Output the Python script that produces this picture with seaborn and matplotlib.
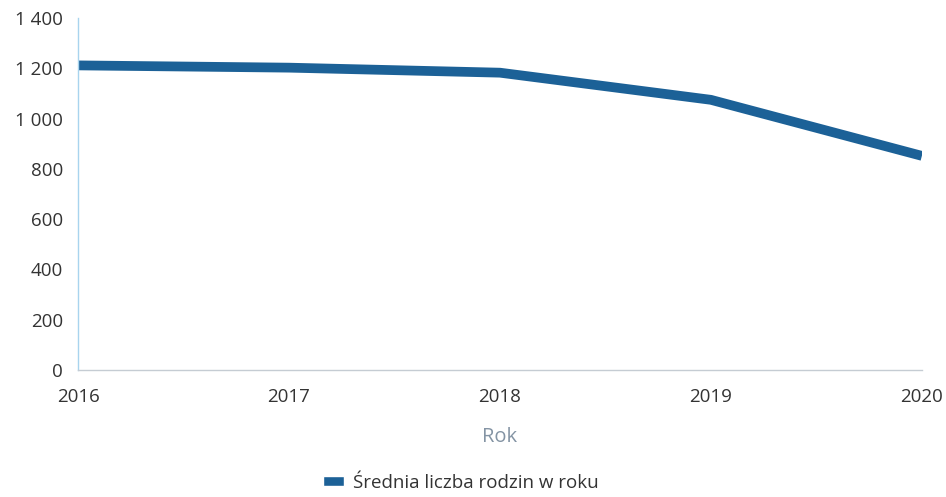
import pandas as pd
import numpy as np

import seaborn as sns
import matplotlib.pyplot as plt
from matplotlib.ticker import FuncFormatter
from matplotlib.patches import Patch


years = [2016, 2017, 2018, 2019, 2020]
families = [1212, 1203, 1183, 1075, 852]
series_name = "Średnia liczba rodzin w roku"
yticks = [0, 200, 400, 600, 800, 1000, 1200, 1400]


def space_thousands(v, pos):
    return "{:,.0f}".format(v).replace(",", " ")


if __name__ == "__main__":
    sns.set_style("white")
    plt.rcParams['font.family'] = ['Open Sans', 'DejaVu Sans']

    df = pd.DataFrame({"Rok": years, series_name: families})

    fig = plt.figure(figsize=(9.46, 4.97), dpi=100)
    ax = fig.add_axes([0.0825, 0.2555, 0.892, 0.708])

    line_color = "#1c6197"
    sns.lineplot(data=df, x="Rok", y=series_name, ax=ax, color=line_color,
                 linewidth=7, solid_capstyle="butt")

    ax.set_xlim(2016, 2020)
    ax.set_ylim(0, 1400)
    ax.set_xticks(years)
    ax.set_yticks(yticks)
    ax.yaxis.set_major_formatter(FuncFormatter(space_thousands))
    ax.tick_params(axis="both", length=0, labelsize=13.5, colors="#333333")
    ax.tick_params(axis="y", pad=11)
    ax.tick_params(axis="x", pad=13)

    for side in ["top", "right"]:
        ax.spines[side].set_visible(False)
    ax.spines["left"].set_color("#a8d4ee")
    ax.spines["left"].set_linewidth(1)
    ax.spines["bottom"].set_color("#c5ccd3")
    ax.spines["bottom"].set_linewidth(1)

    ax.set_ylabel("")
    ax.set_xlabel("Rok", fontsize=14.5, color="#8494a4", labelpad=15)

    handles = [Patch(facecolor=line_color, label=series_name)]
    fig.legend(handles=handles, loc="center", bbox_to_anchor=(0.487, 0.028),
               frameon=False, fontsize=13.5, handlelength=1.1, handleheight=0.45,
               handletextpad=0.5, labelcolor="#333333")

    plt.savefig("out.png", dpi=100)
